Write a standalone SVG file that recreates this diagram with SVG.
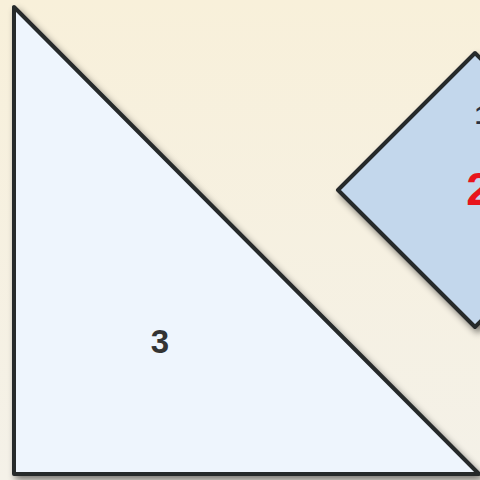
<svg xmlns="http://www.w3.org/2000/svg" width="480" height="480" viewBox="0 0 480 480">
<defs>
<linearGradient id="bg" x1="0" y1="0" x2="0" y2="1">
<stop offset="0" stop-color="#f8f0da"/>
<stop offset="1" stop-color="#f4f1e8"/>
</linearGradient>
<filter id="sh" x="-20%" y="-20%" width="140%" height="140%">
<feGaussianBlur in="SourceAlpha" stdDeviation="3.5"/>
<feOffset dx="3" dy="4" result="b"/>
<feComponentTransfer><feFuncA type="linear" slope="0.5"/></feComponentTransfer>
<feMerge><feMergeNode/><feMergeNode in="SourceGraphic"/></feMerge>
</filter>
<style>
.shape{stroke:#26292c;stroke-width:4;stroke-linejoin:round}
.lbl{font-family:"Liberation Sans",Arial,sans-serif;font-weight:bold}
</style>
</defs>
<rect width="480" height="480" fill="url(#bg)"/>
<g id="node3">
<path class="shape" d="M14 7 L14 474 L479 474 Z" fill="#eef5fd" filter="url(#sh)"/>
<text class="lbl" x="160" y="353" font-size="33" fill="#333" text-anchor="middle">3</text>
</g>
<g id="node12">
<path class="shape" d="M475 53 L338 190 L475 327 L612 190 Z" fill="#c3d7ec" filter="url(#sh)"/>
<text class="lbl" x="482" y="124" font-size="26" fill="#2a3140" text-anchor="middle">1</text>
<text class="lbl" x="479" y="205" font-size="46" fill="#e8141c" text-anchor="middle">2</text>
</g>
</svg>
